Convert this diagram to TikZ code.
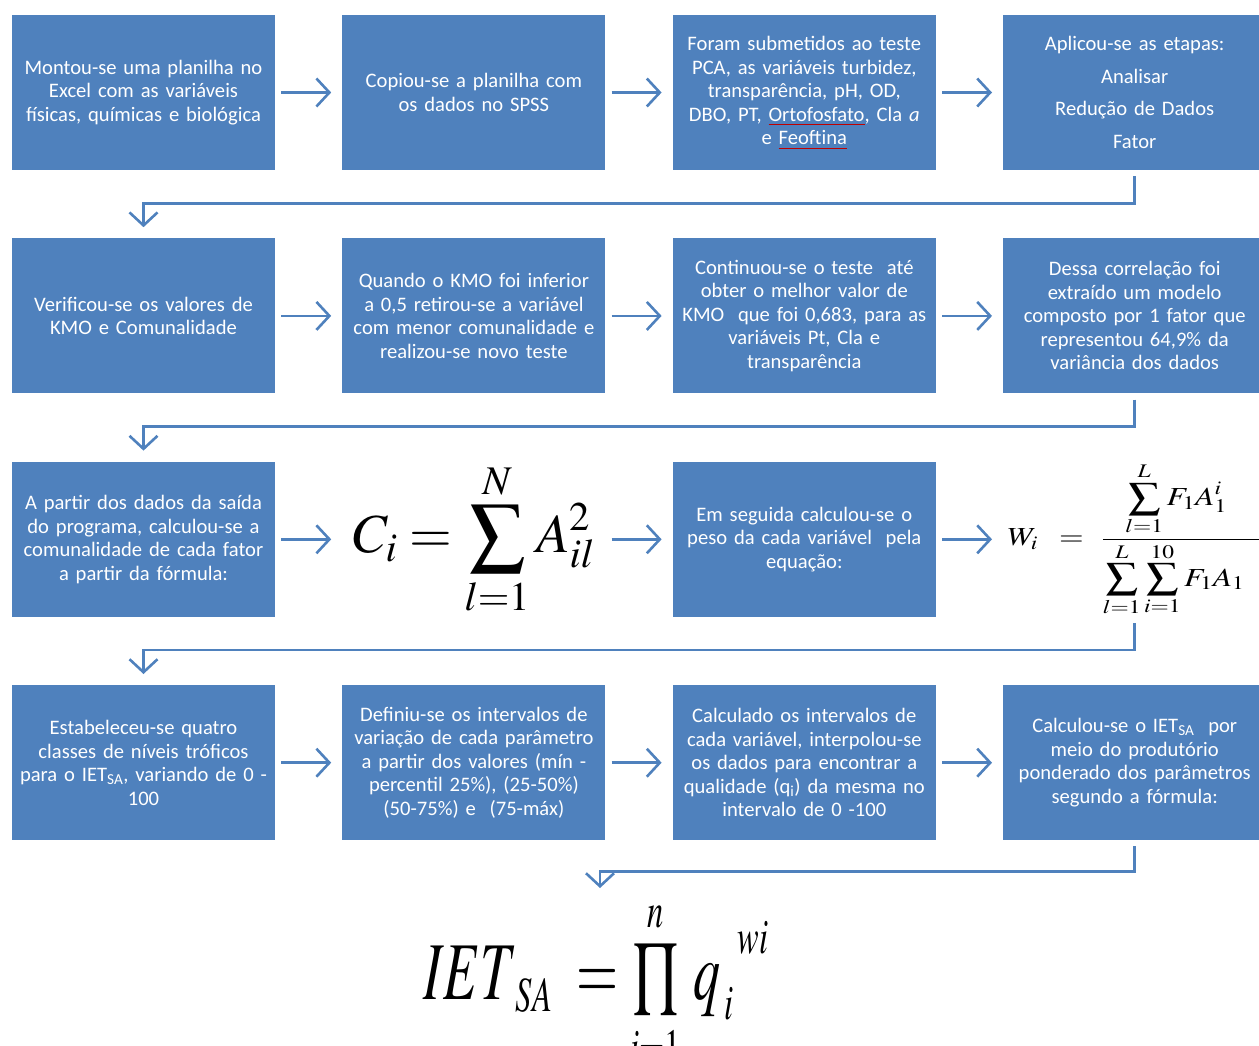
\documentclass[tikz,border=0pt]{standalone}
\usepackage{mathptmx}
\usepackage{fontspec}
\setmainfont{Carlito}
\usepackage{graphicx}
\definecolor{FlowBlue}{RGB}{79,129,189}
\usetikzlibrary{arrows.meta,positioning,calc}
\newcommand\boxfont{\fontsize{20.6}{23.5}\selectfont}
\newcommand\spellwave[1]{\setbox0\hbox{#1}\rlap{\color{red!75!black}\rule[-3.5pt]{\wd0}{0.7pt}}\box0}

\begin{document}
\begin{tikzpicture}[x=1pt, y=-1pt, node distance=68pt and 67pt,
    box/.style={rectangle, fill=FlowBlue, text=white, minimum width=263pt,
      minimum height=155pt, text width=256pt, align=center, inner sep=0pt, font=\boxfont},
    formula/.style={rectangle, minimum width=263pt, minimum height=155pt, inner sep=0pt},
    flow/.style={draw=FlowBlue, line width=2.6pt, -{Straight Barb[length=13pt,width=28pt]},
      shorten <=6pt, shorten >=11pt}]
  \useasboundingbox (0,0) rectangle (1259,1045);

  % first row
  \node[box] (b1) at (143.5,92.5) {Montou-se uma planilha no\\Excel com as variáveis\\físicas, químicas e biológica};
  \node[box, right=of b1] (b2) {Copiou-se a planilha com\\os dados no SPSS};
  \node[box, right=of b2] (b3) {Foram submetidos ao teste\\PCA, as variáveis turbidez,\\transparência, pH, OD,\\DBO, PT, \spellwave{Ortofosfato}, Cla \textit{a}\\e \spellwave{Feoftina}};
  \node[box, right=of b3] (b4) {Aplicou-se as etapas:\\[9pt]Analisar\\[9pt]Redução de Dados\\[9pt]Fator};

  % second row
  \node[box, below=of b1] (b5) {Verificou-se os valores de\\KMO e Comunalidade};
  \node[box, right=of b5] (b6) {Quando o KMO foi inferior\\a 0,5 retirou-se a variável\\com menor comunalidade e\\realizou-se novo teste};
  \node[box, right=of b6] (b7) {Continuou-se o teste\ \ até\\obter o melhor valor de\\KMO\ \ que foi 0,683, para as\\variáveis Pt, Cla e\\transparência};
  \node[box, right=of b7] (b8) {Dessa correlação foi\\extraído um modelo\\composto por 1 fator que\\representou 64,9\% da\\variância dos dados};

  % third row
  \node[box, below=of b5] (b9) {A partir dos dados da saída\\do programa, calculou-se a\\comunalidade de cada fator\\a partir da fórmula:};
  \node[formula, right=of b9] (b10) {\fontsize{55}{60}\selectfont$\displaystyle C_i = \sum_{l=1}^{N} A_{il}^{2}$};
  \node[box, right=of b10] (b11) {Em seguida calculou-se o\\peso da cada variável\ \ pela\\equação:};
  \node[formula, right=of b11, text width=258pt, align=left] (b12) {\hspace*{2pt}\scalebox{1.22}[1]{\fontsize{26}{30}\selectfont$\displaystyle W_i \;\;=\;\, \frac{\displaystyle\sum_{l=1}^{L} F_1 A_1^{i}\hspace*{26pt}}{\displaystyle\sum_{l=1}^{L}\sum_{i=1}^{10} F_1 A_1\hspace*{30pt}}$}};

  % fourth row
  \node[box, below=of b9] (b13) {Estabeleceu-se quatro\\classes de níveis tróficos\\para o IET\textsubscript{SA}, variando de 0 -\\100};
  \node[box, right=of b13] (b14) {Definiu-se os intervalos de\\variação de cada parâmetro\\a partir dos valores (mín -\\percentil 25\%), (25-50\%)\\(50-75\%) e\ \ (75-máx)};
  \node[box, right=of b14] (b15) {Calculado os intervalos de\\cada variável, interpolou-se\\os dados para encontrar a\\qualidade (q\textsubscript{i}) da mesma no\\intervalo de 0 -100};
  \node[box, right=of b15] (b16) {Calculou-se o IET\textsubscript{SA}\ \ por\\meio do produtório\\ponderado dos parâmetros\\segundo a fórmula:};

  % final formula
  \node (iet) at (596,985) {\scalebox{0.66}[1]{\fontsize{82}{90}\selectfont$IET_{\;\scriptscriptstyle SA}\; = \mathop{\textstyle\prod}\limits_{\scriptscriptstyle i=1}^{\scriptscriptstyle n}\, q_{\,\scriptscriptstyle i}^{\;\;\raisebox{16pt}{$\scriptscriptstyle wi$}}$}};
  \coordinate (ietin) at (600,899);

  % arrows in the rows
  \foreach \a/\b in {b1/b2,b2/b3,b3/b4,b5/b6,b6/b7,b7/b8,b9/b10,b10/b11,b11/b12,b13/b14,b14/b15,b15/b16}
    \draw[flow] (\a.east) -- (\b.west);

  % arrows between the rows
  \draw[flow] (b4.south) -- ++(0,33) -| (b5.north);
  \draw[flow] (b8.south) -- ++(0,33) -| (b9.north);
  \draw[flow] (b12.south) -- ++(0,33) -| (b13.north);
  \draw[flow] (b16.south) -- ++(0,31) -| (ietin);
\end{tikzpicture}
\end{document}
